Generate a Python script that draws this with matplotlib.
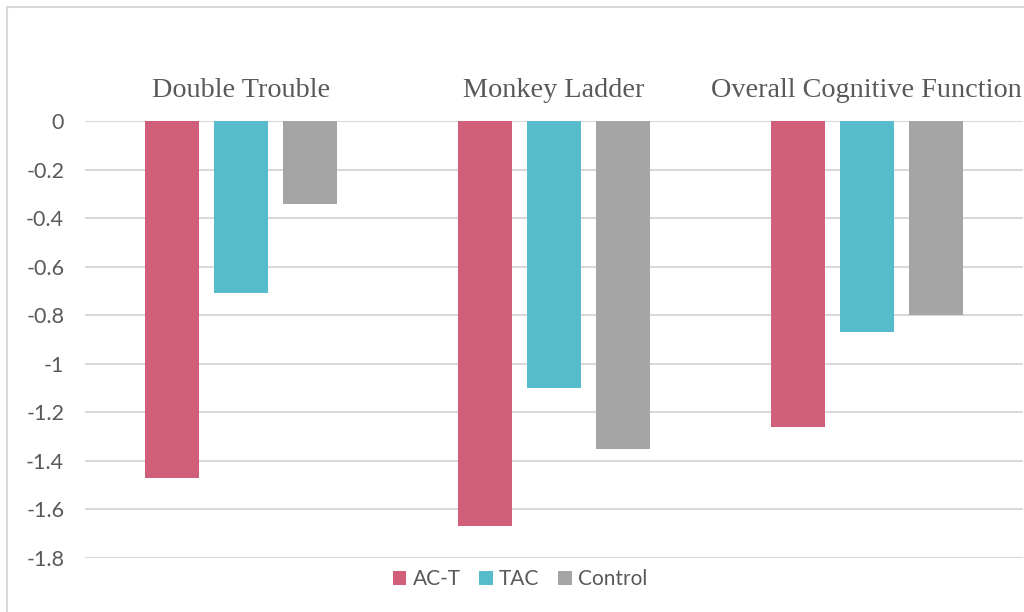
import numpy as np
import matplotlib.pyplot as plt
from matplotlib.patches import Rectangle

categories = ["Double Trouble", "Monkey Ladder", "Overall Cognitive Function"]
series = ["AC-T", "TAC", "Control"]
act = [-1.47, -1.67, -1.26]
tac = [-0.71, -1.10, -0.87]
control = [-0.34, -1.35, -0.80]
yticks = [0, -0.2, -0.4, -0.6, -0.8, -1.0, -1.2, -1.4, -1.6, -1.8]
ytick_labels = ["0", "-0.2", "-0.4", "-0.6", "-0.8", "-1", "-1.2", "-1.4", "-1.6", "-1.8"]

colors = ["#D15F79", "#56BBCA", "#A5A5A5"]
text_grey = "#595959"
grid_grey = "#D9D9D9"

fig = plt.figure(figsize=(10.24, 6.12), dpi=100)
fig.patches.append(Rectangle((7 / 1024, -0.1), 1.2, 1 - 7 / 612 + 0.1,
                             transform=fig.transFigure, fill=False,
                             edgecolor=grid_grey, linewidth=1.5))
ax = fig.add_axes([85 / 1024, 1 - 558 / 612, (1023 - 85) / 1024, (558 - 121) / 612])

x = np.arange(len(categories))
step = 0.221
width = 0.173
handles = []
for i, (name, vals) in enumerate(zip(series, [act, tac, control])):
    h = ax.bar(x + (i - 1) * step, vals, width, color=colors[i], label=name, zorder=3)
    handles.append(h)

ax.set_xlim(-0.5, 2.5)
ax.set_ylim(-1.8, 0)
ax.set_yticks(yticks)
ax.set_yticklabels(ytick_labels, family="Lato", fontsize=15.5, color=text_grey)
ax.tick_params(axis="y", length=0, pad=15)
ax.grid(axis="y", color=grid_grey, linewidth=1.5, zorder=0)

ax.xaxis.tick_top()
ax.set_xticks(x)
ax.set_xticklabels(categories, family="Liberation Serif", fontsize=20.3, color=text_grey)
ax.tick_params(axis="x", length=0, pad=13)

for s in ax.spines.values():
    s.set_visible(False)

fig.legend(handles=handles, labels=series, loc="center", bbox_to_anchor=(0.508, 1 - 579 / 612),
           ncol=3, frameon=False, prop={"family": "Lato", "size": 15},
           handlelength=0.65, handleheight=0.65, handletextpad=0.3, columnspacing=0.9,
           labelcolor=text_grey)

fig.savefig("out.png", dpi=100)
